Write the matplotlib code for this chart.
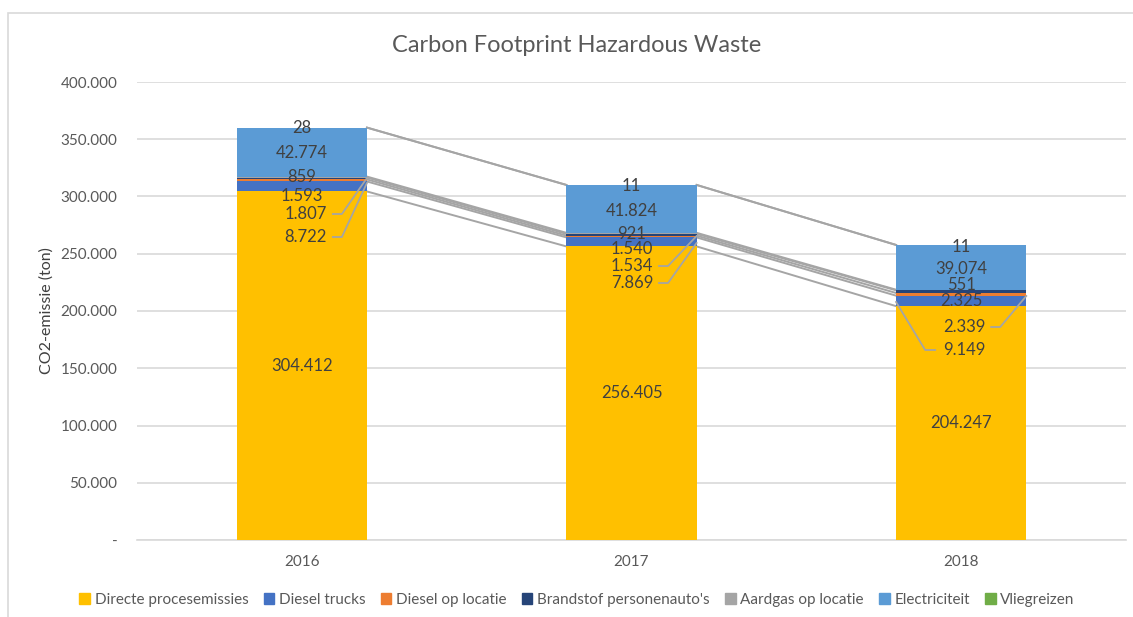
import matplotlib
matplotlib.use("Agg")
import matplotlib.pyplot as plt
from matplotlib.patches import Rectangle
import numpy as np

plt.rcParams['font.family'] = ['Lato', 'DejaVu Sans']

years = ["2016", "2017", "2018"]
series_names = ["Directe procesemissies", "Diesel trucks", "Diesel op locatie",
                "Brandstof personenauto's", "Aardgas op locatie", "Electriciteit", "Vliegreizen"]
directe = [304412, 256405, 204247]
diesel_trucks = [8722, 7869, 9149]
diesel_locatie = [1807, 1534, 2339]
brandstof = [1593, 1540, 2325]
aardgas = [859, 921, 551]
electriciteit = [42774, 41824, 39074]
vliegreizen = [28, 11, 11]
yticks = [0, 50000, 100000, 150000, 200000, 250000, 300000, 350000, 400000]

colors = ["#FFC000", "#4472C4", "#ED7D31", "#264478", "#A5A5A5", "#5B9BD5", "#70AD47"]
series = [directe, diesel_trucks, diesel_locatie, brandstof, aardgas, electriciteit, vliegreizen]

def fmt(v):
    if v == 0:
        return "-"
    return f"{v:,.0f}".replace(",", ".")

W, H = 1133, 617
fig = plt.figure(figsize=(W/100, H/100), dpi=100)
ax = fig.add_axes([137/W, 1-540/H, (1126-137)/W, (540-82)/H])

x = np.arange(len(years))
bw = 0.395
bottoms = np.zeros(len(years))
tops = []
for vals, c, name in zip(series, colors, series_names):
    v = np.array(vals, dtype=float)
    ax.bar(x, v, bw, bottom=bottoms, color=c, label=name, zorder=3)
    bottoms = bottoms + v
    tops.append(bottoms.copy())

# series lines
for t in tops:
    for i in range(len(years)-1):
        ax.plot([x[i]+bw/2, x[i+1]-bw/2], [t[i], t[i+1]], color="#A5A5A5", lw=1.4, zorder=2)

ax.set_xlim(-0.5, 2.5)
ax.set_ylim(0, 400000)
ax.set_yticks(yticks)
ax.set_yticklabels([fmt(v) for v in yticks])
ax.set_xticks(x)
ax.set_xticklabels(years)
ax.tick_params(axis='both', length=0, labelsize=11, colors="#595959")
ax.tick_params(axis='y', pad=14)
ax.tick_params(axis='x', pad=11)
ax.grid(axis='y', color="#D9D9D9", lw=1.2, zorder=0)
for s in ["top", "right", "left"]:
    ax.spines[s].set_visible(False)
ax.spines["bottom"].set_color("#D9D9D9")
ax.spines["bottom"].set_linewidth(1.2)
ax.set_ylabel("CO2-emissie (ton)", fontsize=11.5, color="#404040", labelpad=5)
fig.text(577/W, 1-45/H, "Carbon Footprint Hazardous Waste", ha="center", va="center",
         fontsize=17, color="#595959")

# data labels (layout positions in px converted to data)
def py(ypx):
    return (540-ypx)/458*400000
def px(xpx):
    return (xpx-302)/329.5

lab_col = "#404040"
fs = 12
# center labels: (year index, series index, y px)
center_labels = [
    (0, 6, 128), (0, 5, 153), (0, 4, 177), (0, 3, 196),
    (1, 6, 186), (1, 5, 211), (1, 4, 234), (1, 3, 249),
    (2, 6, 247), (2, 5, 269), (2, 4, 285), (2, 3, 301),
    (0, 0, 366), (1, 0, 393), (2, 0, 423),
]
for yi, si, ypx in center_labels:
    ax.text(x[yi], py(ypx), fmt(series[si][yi]), ha="center", va="center",
            fontsize=fs, color=lab_col, zorder=5)

# leader labels to the right edge: (year, series, text right px, y px, bar-edge y px)
right_leaders = [
    (0, 2, 327, 214, 178), (0, 1, 327, 237, 183),
    (1, 2, 653, 266, 236), (1, 1, 653, 283, 243),
    (2, 2, 985, 327, 296),
]
for yi, si, xr, ypx, yend in right_leaders:
    ax.text(px(xr), py(ypx), fmt(series[si][yi]), ha="right", va="center",
            fontsize=fs, color=lab_col, zorder=5)
    xe = x[yi] + bw/2
    ax.plot([px(xr+6), px(xr+15), xe], [py(ypx), py(ypx), py(yend)],
            color="#A5A5A5", lw=1.3, zorder=4)

# leader label to the left edge (2018 diesel trucks)
ax.text(px(943), py(350), fmt(series[1][2]), ha="left", va="center",
        fontsize=fs, color=lab_col, zorder=5)
ax.plot([px(935), px(925), x[2]-bw/2], [py(350), py(350), py(302)],
        color="#A5A5A5", lw=1.3, zorder=4)

handles = [Rectangle((0, 0), 1, 1, color=c) for c in colors]
leg = fig.legend(handles, series_names, loc="center", bbox_to_anchor=(577/W, 1-600/H),
                 ncol=7, frameon=False, fontsize=11, handlelength=0.7, handleheight=0.7,
                 handletextpad=0.3, columnspacing=1.0, labelcolor="#595959")

fig.add_artist(Rectangle((8/W, -0.1), 1.2, (1-13/H)+0.1, transform=fig.transFigure,
                         fill=False, edgecolor="#D9D9D9", lw=1.2))

fig.savefig("out.png", dpi=100)
